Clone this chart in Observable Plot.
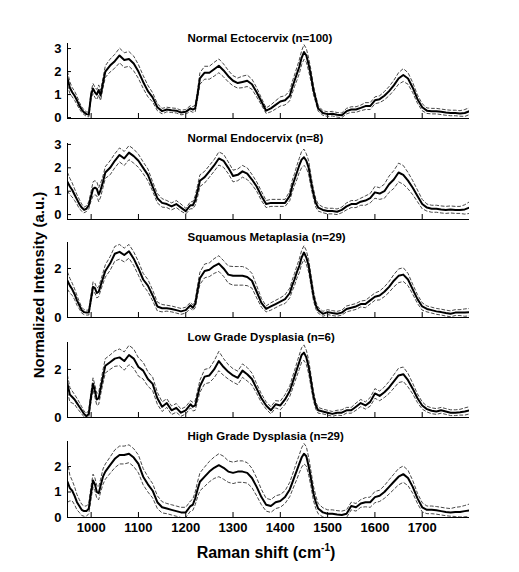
<!DOCTYPE html>
<html>
<head>
<meta charset="utf-8">
<script src="https://cdn.jsdelivr.net/npm/d3@7"></script>
<script src="https://cdn.jsdelivr.net/npm/@observablehq/plot@0.6"></script>
<style>
  html, body { margin: 0; padding: 0; background: white; }
  #chart { position: relative; width: 519px; height: 572px; background: white; font-family: "Liberation Sans", Arial, sans-serif; }
  #chart svg { position: absolute; left: 0; }
  .ylab { position: absolute; left: 38px; top: 285px; transform: translate(-50%, -50%) rotate(-90deg); white-space: nowrap; font-weight: bold; font-size: 15px; color: black; }
  .xlab { position: absolute; left: 266px; top: 552px; transform: translate(-50%, -50%); white-space: nowrap; font-weight: bold; font-size: 16px; color: black; }
  .xlab sup { font-size: 10px; }
</style>
</head>
<body>
<div id="chart"></div>
<script>
// Raman shift grid (cm^-1)
const ramanShift = [
  950,955,960,965,970,975,980,985,990,995,
  1000,1004,1008,1012,1016,1020,1025,
  1030,1040,1050,1060,1070,1080,1090,1100,1110,1120,1130,1140,1150,1160,1170,1180,1190,1200,
  1210,1215,1220,1225,1230,1240,
  1250,1260,1270,1280,1290,1300,1310,1320,1330,1340,1350,1360,1370,1380,1390,1400,1410,1420,
  1425,1430,1435,1440,1445,1450,1455,1460,1465,1470,1475,1480,
  1490,1500,1510,1520,1530,1540,1550,1560,1570,1580,1590,1600,1610,1620,1630,1640,1650,1660,1670,1680,1690,1700,1710,1720,1730,1740,1750,1760,1770,1780,1790,1800
];

const titles = [
  "Normal Ectocervix (n=100)",
  "Normal Endocervix (n=8)",
  "Squamous Metaplasia (n=29)",
  "Low Grade Dysplasia (n=6)",
  "High Grade Dysplasia (n=29)"
];

const meanEcto = [
  1.7,1.3,1.1,0.95,0.75,0.52,0.35,0.23,0.15,0.13,
  1.0,1.26,1.1,1.0,1.2,0.96,1.5,
  2.0,2.26,2.45,2.7,2.5,2.55,2.35,2.0,1.55,1.15,0.88,0.45,0.28,0.35,0.32,0.3,0.22,0.25,
  0.4,0.35,0.4,1.0,1.7,1.95,
  1.95,2.1,2.25,2.05,1.8,1.6,1.5,1.55,1.6,1.45,1.1,0.7,0.3,0.4,0.55,0.7,0.75,0.95,
  1.3,1.6,1.9,2.2,2.6,2.85,2.7,2.3,1.8,1.2,0.8,0.4,
  0.2,0.15,0.17,0.12,0.1,0.28,0.35,0.35,0.42,0.5,0.5,0.75,0.8,0.95,1.15,1.4,1.7,1.85,1.7,1.3,0.8,0.45,0.3,0.28,0.28,0.25,0.22,0.2,0.2,0.18,0.2,0.28
];
const sdEcto = [
  0.3,0.25,0.2,0.2,0.18,0.15,0.12,0.1,0.1,0.1,
  0.15,0.22,0.22,0.22,0.22,0.22,0.22,
  0.25,0.28,0.3,0.32,0.32,0.32,0.32,0.3,0.28,0.25,0.2,0.15,0.12,0.1,0.1,0.1,0.1,0.1,
  0.12,0.12,0.15,0.2,0.25,0.28,
  0.28,0.3,0.3,0.28,0.25,0.22,0.22,0.25,0.25,0.22,0.2,0.15,0.12,0.15,0.18,0.2,0.2,0.22,
  0.25,0.25,0.28,0.3,0.3,0.32,0.3,0.28,0.25,0.2,0.15,0.12,
  0.1,0.1,0.1,0.1,0.1,0.12,0.12,0.12,0.12,0.15,0.15,0.15,0.15,0.18,0.2,0.22,0.25,0.28,0.25,0.22,0.18,0.15,0.12,0.12,0.12,0.12,0.12,0.12,0.12,0.12,0.15,0.15
];

const meanEndo = [
  1.4,1.2,1.05,0.85,0.65,0.45,0.3,0.2,0.25,0.4,
  0.8,1.1,1.15,1.1,0.85,1.05,1.4,
  1.8,2.0,2.3,2.55,2.4,2.65,2.5,2.3,2.0,1.7,1.2,0.7,0.5,0.45,0.35,0.45,0.3,0.15,
  0.4,0.4,0.6,1.0,1.45,1.6,
  1.85,2.1,2.4,2.3,2.0,1.65,1.7,1.85,1.75,1.5,1.2,0.8,0.45,0.5,0.5,0.5,0.5,0.8,
  1.2,1.5,1.8,2.1,2.35,2.45,2.3,2.0,1.4,0.9,0.5,0.3,
  0.2,0.15,0.15,0.12,0.2,0.35,0.45,0.45,0.55,0.6,0.7,0.95,0.9,1.0,1.3,1.5,1.8,1.7,1.45,1.15,0.8,0.45,0.3,0.25,0.25,0.22,0.2,0.22,0.2,0.2,0.22,0.3
];
const sdEndo = [
  0.4,0.35,0.3,0.25,0.2,0.2,0.15,0.12,0.12,0.15,
  0.2,0.3,0.3,0.3,0.3,0.3,0.25,
  0.25,0.3,0.3,0.3,0.3,0.3,0.3,0.28,0.25,0.25,0.2,0.2,0.18,0.15,0.15,0.15,0.15,0.12,
  0.15,0.15,0.2,0.25,0.25,0.25,
  0.25,0.25,0.28,0.28,0.25,0.25,0.25,0.25,0.25,0.22,0.2,0.2,0.15,0.15,0.15,0.15,0.15,0.2,
  0.25,0.25,0.3,0.3,0.35,0.35,0.3,0.3,0.25,0.2,0.18,0.15,
  0.12,0.12,0.12,0.12,0.12,0.15,0.15,0.15,0.15,0.2,0.2,0.25,0.25,0.3,0.35,0.38,0.4,0.4,0.35,0.3,0.25,0.2,0.15,0.15,0.15,0.15,0.15,0.15,0.15,0.15,0.2,0.25
];

const meanSquam = [
  1.5,1.3,1.15,0.95,0.7,0.5,0.3,0.22,0.2,0.2,
  0.8,1.25,1.2,1.0,1.05,1.3,1.6,
  1.9,2.2,2.6,2.68,2.55,2.7,2.4,2.0,1.55,1.3,0.9,0.45,0.38,0.38,0.35,0.3,0.25,0.3,
  0.5,0.4,0.55,1.1,1.6,1.9,
  1.95,2.1,2.2,2.0,1.75,1.7,1.7,1.7,1.65,1.5,1.05,0.6,0.35,0.45,0.55,0.65,0.75,1.0,
  1.3,1.55,1.85,2.1,2.45,2.65,2.45,2.1,1.5,0.9,0.5,0.3,
  0.15,0.22,0.18,0.15,0.2,0.35,0.4,0.45,0.55,0.55,0.7,0.85,0.9,1.05,1.25,1.5,1.7,1.75,1.55,1.15,0.75,0.45,0.35,0.3,0.25,0.22,0.18,0.15,0.2,0.2,0.2,0.22
];
const sdSquam = [
  0.35,0.3,0.25,0.22,0.2,0.15,0.12,0.1,0.1,0.1,
  0.15,0.2,0.2,0.2,0.2,0.2,0.22,
  0.25,0.28,0.3,0.3,0.28,0.28,0.28,0.28,0.25,0.25,0.22,0.18,0.15,0.12,0.12,0.12,0.12,0.12,
  0.12,0.12,0.15,0.2,0.25,0.28,
  0.28,0.3,0.32,0.32,0.35,0.38,0.38,0.38,0.35,0.3,0.25,0.18,0.12,0.15,0.15,0.15,0.18,0.2,
  0.22,0.25,0.25,0.28,0.28,0.28,0.28,0.25,0.22,0.2,0.15,0.12,
  0.1,0.1,0.1,0.1,0.1,0.12,0.12,0.12,0.12,0.15,0.15,0.15,0.18,0.2,0.22,0.25,0.28,0.28,0.25,0.2,0.18,0.15,0.12,0.12,0.12,0.12,0.12,0.12,0.12,0.12,0.15,0.15
];

const meanLow = [
  1.4,0.95,0.85,0.75,0.6,0.45,0.3,0.15,0.05,0.15,
  0.9,1.4,1.1,0.75,0.8,1.2,1.7,
  2.15,2.3,2.45,2.5,2.35,2.6,2.45,2.1,1.95,1.6,1.4,0.8,0.45,0.6,0.3,0.4,0.2,0.3,
  0.55,0.45,0.5,0.9,1.3,1.7,
  1.75,2.0,2.35,2.1,1.9,1.75,1.65,1.95,1.8,1.6,1.2,0.8,0.5,0.3,0.55,0.5,0.75,1.1,
  1.4,1.7,2.0,2.3,2.6,2.7,2.5,2.1,1.5,0.9,0.5,0.3,
  0.25,0.2,0.15,0.2,0.2,0.3,0.3,0.45,0.6,0.5,0.65,1.0,0.9,1.05,1.25,1.5,1.75,1.8,1.55,1.2,0.8,0.5,0.35,0.28,0.25,0.3,0.25,0.2,0.2,0.22,0.25,0.3
];
const sdLow = [
  0.35,0.3,0.25,0.2,0.2,0.18,0.15,0.12,0.12,0.15,
  0.2,0.25,0.25,0.25,0.25,0.25,0.28,
  0.3,0.3,0.32,0.35,0.38,0.4,0.4,0.38,0.35,0.3,0.28,0.25,0.2,0.18,0.18,0.18,0.15,0.15,
  0.15,0.18,0.2,0.22,0.25,0.3,
  0.3,0.35,0.4,0.35,0.3,0.28,0.28,0.28,0.28,0.25,0.2,0.18,0.15,0.15,0.15,0.18,0.2,0.22,
  0.25,0.25,0.28,0.3,0.3,0.32,0.3,0.28,0.25,0.2,0.15,0.12,
  0.1,0.1,0.1,0.1,0.12,0.12,0.12,0.15,0.15,0.15,0.18,0.2,0.2,0.22,0.25,0.28,0.3,0.3,0.28,0.22,0.18,0.15,0.12,0.12,0.12,0.12,0.12,0.12,0.12,0.12,0.15,0.15
];

const meanHigh = [
  1.4,1.15,1.05,0.85,0.6,0.45,0.3,0.25,0.25,0.35,
  1.0,1.45,1.3,1.0,0.95,1.25,1.6,
  1.8,2.05,2.3,2.45,2.45,2.5,2.35,2.1,1.6,1.3,1.05,0.6,0.4,0.35,0.3,0.25,0.2,0.2,
  0.45,0.5,0.75,1.1,1.4,1.6,
  1.8,1.95,2.05,1.95,1.8,1.75,1.8,1.8,1.75,1.55,1.2,0.8,0.5,0.45,0.6,0.65,0.8,1.1,
  1.35,1.6,1.85,2.1,2.35,2.5,2.4,2.0,1.5,0.95,0.6,0.35,
  0.2,0.15,0.15,0.12,0.1,0.15,0.45,0.4,0.55,0.6,0.6,0.8,0.85,1.0,1.2,1.4,1.6,1.7,1.55,1.2,0.75,0.4,0.3,0.3,0.28,0.25,0.22,0.2,0.22,0.22,0.25,0.28
];
const sdHigh = [
  0.8,0.5,0.4,0.35,0.3,0.25,0.22,0.2,0.2,0.2,
  0.25,0.25,0.25,0.25,0.25,0.25,0.3,
  0.3,0.32,0.35,0.35,0.35,0.35,0.35,0.35,0.32,0.3,0.28,0.25,0.22,0.2,0.2,0.2,0.2,0.2,
  0.2,0.22,0.25,0.3,0.35,0.38,
  0.4,0.42,0.45,0.45,0.42,0.42,0.42,0.42,0.4,0.38,0.35,0.3,0.25,0.25,0.25,0.25,0.25,0.28,
  0.3,0.32,0.35,0.35,0.38,0.4,0.38,0.35,0.3,0.28,0.25,0.2,
  0.18,0.15,0.15,0.15,0.15,0.15,0.15,0.15,0.15,0.18,0.2,0.22,0.22,0.25,0.28,0.3,0.32,0.32,0.3,0.25,0.2,0.18,0.15,0.15,0.15,0.15,0.15,0.15,0.18,0.2,0.22,0.25
];

const xTicks = [1000, 1100, 1200, 1300, 1400, 1500, 1600, 1700];
const yDomains = [[-0.04, 3.22], [-0.21, 3.04], [0, 3.06], [0, 3.12], [0, 2.98]];
const yTickSets = [[0, 1, 2, 3], [0, 1, 2, 3], [0, 2], [0, 2], [0, 1, 2]];
const means = [meanEcto, meanEndo, meanSquam, meanLow, meanHigh];
const sds = [sdEcto, sdEndo, sdSquam, sdLow, sdHigh];

// layout (pixels)
const W = 519, mL = 67, mR = 50, mT = 16;
const frameTops = [43, 143, 242, 342, 441];
const frameHeights = [75, 76, 75, 75, 76];

const chart = document.getElementById("chart");

for (let p = 0; p < 5; p++) {
  const rows = ramanShift.map((x, i) => ({x, m: means[p][i], s: sds[p][i]}));
  const last = p === 4;
  const h = frameHeights[p];
  const mB = last ? 22 : 2;
  const plot = Plot.plot({
    width: W,
    height: mT + h + mB,
    marginLeft: mL,
    marginRight: mR,
    marginTop: mT,
    marginBottom: mB,
    style: {fontFamily: "'Liberation Sans', Arial, sans-serif", fontSize: "13px", fontWeight: "bold", background: "white", overflow: "visible", color: "black"},
    x: {domain: [950, 1800], ticks: xTicks, tickSize: 0, tickPadding: 5, tickFormat: d => String(d), label: null, axis: last ? "bottom" : null},
    y: {domain: yDomains[p], ticks: yTickSets[p], tickSize: 0, tickPadding: 6, tickFormat: d => String(d), label: null},
    marks: [
      Plot.ruleX(xTicks, {x: d => d, insetTop: h - 5, stroke: "black", strokeWidth: 1}),
      Plot.ruleY(yTickSets[p], {y: d => d, insetRight: (W - mL - mR) - 4, stroke: "black", strokeWidth: 1}),
      Plot.line(rows, {x: "x", y: d => d.m + d.s, stroke: "#333", strokeWidth: 0.9, strokeDasharray: "3,2.5", clip: true}),
      Plot.line(rows, {x: "x", y: d => d.m - d.s, stroke: "#333", strokeWidth: 0.9, strokeDasharray: "3,2.5", clip: true}),
      Plot.line(rows, {x: "x", y: "m", stroke: "black", strokeWidth: 2, clip: true}),
      Plot.ruleX([950], {stroke: "black", strokeWidth: 1}),
      Plot.ruleY([yDomains[p][0]], {stroke: "black", strokeWidth: 1}),
      Plot.text([titles[p]], {text: d => d, frameAnchor: "top-left", dx: 120, dy: -10, textAnchor: "start", fontSize: 11.5, fontWeight: "bold", fill: "black"})
    ]
  });
  plot.style.top = (frameTops[p] - mT) + "px";
  chart.appendChild(plot);
}

const yl = document.createElement("div");
yl.className = "ylab";
yl.textContent = "Normalized Intensity (a.u.)";
chart.appendChild(yl);

const xl = document.createElement("div");
xl.className = "xlab";
xl.innerHTML = "Raman shift (cm<sup>-1</sup>)";
chart.appendChild(xl);
</script>
</body>
</html>
